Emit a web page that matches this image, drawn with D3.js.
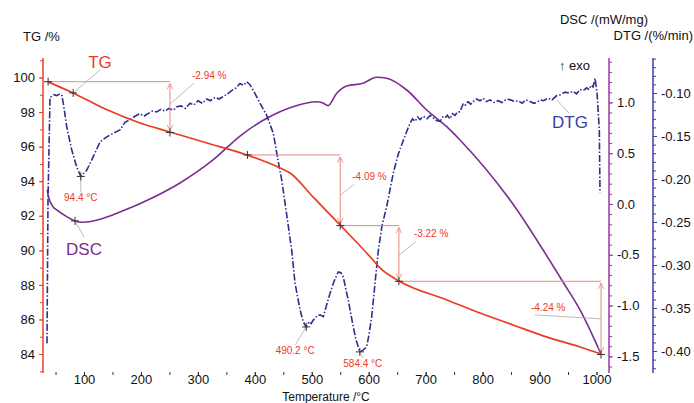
<!DOCTYPE html>
<html>
<head>
<meta charset="utf-8">
<script src="https://cdn.jsdelivr.net/npm/d3@7"></script>
<style>
  body { margin: 0; background: #fff; }
  svg text { font-family: "Liberation Sans", Arial, Helvetica, sans-serif; }
</style>
</head>
<body>
<script>
// TG curve (temperature °C, mass %)
const tgTemp = [36.8, 80.7, 140.4, 198.4, 251.0, 316.0, 386.3, 444.2, 461.8, 502.2, 549.6, 607.6, 619.9, 653.2, 737.5, 795.5, 853.4, 913.1, 971.1, 1008];
const tgVal  = [99.75, 99.11, 98.13, 97.37, 96.85, 96.21, 95.52, 94.77, 94.48, 93.09, 91.47, 89.44, 88.98, 88.23, 87.13, 86.37, 85.68, 84.98, 84.41, 84.00];

// DSC curve (mW/mg)
const dscTemp = [35.5, 37.3, 45.6, 52.1, 69.6, 84.2, 98.0, 112.0, 130.0, 163.2, 215.9, 268.6, 326.6, 374.0, 420.9, 467.1, 508.7, 519.7, 528.5, 543.8, 561.4, 590.0, 614.0, 631.6, 666.7, 701.9, 737.0, 760.3, 848.2, 941.2, 971.1, 1007.5];
const dscVal  = [0.14, 0.079, -0.027, -0.059, -0.125, -0.167, -0.180, -0.172, -0.148, -0.080, 0.049, 0.207, 0.433, 0.669, 0.844, 0.958, 1.007, 0.994, 0.968, 1.090, 1.161, 1.188, 1.247, 1.237, 1.122, 0.925, 0.761, 0.630, 0.039, -0.768, -1.043, -1.471];

// DTG curve (%/min)
const dtgTemp = [35.0, 36.8, 40.3, 43.3, 47.3, 52.1, 56.1, 60.8, 63.7, 69.6, 78.4, 87.2, 94.4, 104.7, 116.3, 128.1, 139.9, 150.9, 163.2, 172.0, 180.8, 189.6, 198.4, 205.0, 212.4, 220.0, 227.7, 235.0, 242.3, 249.0, 256.8, 263.0, 270.4, 278.0, 286.2, 293.0, 300.2, 308.0, 315.5, 322.0, 330.1, 337.0, 344.7, 352.0, 359.9, 367.0, 374.0, 380.0, 385.7, 391.0, 397.3, 409.1, 420.9, 432.5, 441.2, 447.2, 454.8, 464.8, 470.6, 479.4, 485.0, 490.2, 495.2, 499.0, 502.7, 506.0, 509.2, 514.5, 520.3, 525.0, 532.0, 539.1, 546.6, 551.3, 555.4, 560.1, 564.2, 568.9, 573.0, 577.7, 584.4, 590.0, 596.5, 600.5, 605.3, 611.1, 616.9, 623.4, 631.6, 643.2, 651.5, 660.8, 666.0, 672.6, 677.0, 681.3, 686.0, 690.1, 696.0, 702.4, 708.0, 713.5, 719.0, 725.2, 730.0, 734.0, 738.0, 742.8, 747.0, 751.6, 756.0, 760.3, 766.2, 770.0, 774.4, 779.0, 783.7, 789.0, 795.5, 801.0, 807.0, 813.0, 820.0, 827.1, 834.0, 842.4, 849.0, 857.0, 863.0, 869.3, 876.0, 883.3, 890.0, 895.0, 900.9, 907.0, 915.0, 922.0, 930.2, 937.0, 944.8, 952.0, 959.3, 965.0, 971.1, 977.0, 982.9, 987.0, 990.5, 994.0, 997.5, 1001.0, 1005.0, 1006.2, 1007.1, 1008.0];
const dtgVal  = [-0.391, -0.224, -0.105, -0.104, -0.102, -0.103, -0.1015, -0.102, -0.112, -0.139, -0.166, -0.186, -0.197, -0.190, -0.174, -0.157, -0.151, -0.147, -0.143, -0.134, -0.131, -0.127, -0.124, -0.127, -0.124, -0.121, -0.122, -0.119, -0.121, -0.118, -0.120, -0.116, -0.115, -0.118, -0.112, -0.114, -0.109, -0.112, -0.107, -0.109, -0.105, -0.107, -0.104, -0.101, -0.097, -0.094, -0.089, -0.091, -0.087, -0.090, -0.097, -0.112, -0.126, -0.147, -0.180, -0.201, -0.236, -0.283, -0.321, -0.352, -0.366, -0.372, -0.366, -0.368, -0.364, -0.362, -0.359, -0.358, -0.360, -0.349, -0.333, -0.319, -0.308, -0.309, -0.314, -0.329, -0.341, -0.358, -0.372, -0.387, -0.401, -0.399, -0.395, -0.381, -0.360, -0.321, -0.283, -0.254, -0.232, -0.193, -0.172, -0.155, -0.146, -0.135, -0.130, -0.133, -0.128, -0.131, -0.127, -0.130, -0.126, -0.129, -0.132, -0.133, -0.128, -0.129, -0.126, -0.130, -0.124, -0.126, -0.122, -0.122, -0.112, -0.114, -0.110, -0.113, -0.110, -0.107, -0.109, -0.106, -0.110, -0.108, -0.111, -0.109, -0.111, -0.107, -0.108, -0.110, -0.109, -0.112, -0.108, -0.110, -0.112, -0.111, -0.108, -0.109, -0.106, -0.108, -0.103, -0.102, -0.099, -0.100, -0.098, -0.101, -0.096, -0.097, -0.094, -0.096, -0.091, -0.093, -0.083, -0.100, -0.143, -0.216];

// mass-loss steps
const stepTemp = [37, 251, 387, 550, 653, 1008];
const stepTG   = [99.76, 96.82, 95.52, 91.43, 88.21, 83.97];
const stepFrom = [0, 2, 3, 4];
const stepTo   = [1, 3, 4, 5];
const stepLoss = ["-2.94 %", "-4.09 %", "-3.22 %", "-4.24 %"];

// DTG peaks
const peakTemp = [94.4, 490.2, 584.4];
const peakDTG  = [-0.197, -0.372, -0.401];
const peakText = ["94.4 °C", "490.2 °C", "584.4 °C"];

// tick values
const xTicks   = [100, 200, 300, 400, 500, 600, 700, 800, 900, 1000];
const tgTicks  = [84, 86, 88, 90, 92, 94, 96, 98, 100];
const dscTicks = [-1.5, -1.0, -0.5, 0.0, 0.5, 1.0];
const dtgTicks = [-0.40, -0.35, -0.30, -0.25, -0.20, -0.15, -0.10];

let width = 694;
let height = 403;
let svg = d3.select("body").append("svg")
            .attr("width", width)
            .attr("height", height);

const red = "#ec3b23", purple = "#7b2c8f", blue = "#2c2f8e";
const redAxis = "#e8402a", purpleAxis = "#9a3aa6", blueAxis = "#3f3fae";
const annot = "#e08a7d";

let plotTop = 58, plotBottom = 372, plotLeft = 43, plotRight = 609;

let x = d3.scaleLinear().domain([28, 1022]).range([plotLeft, plotRight]);
let yTG = d3.scaleLinear().domain([82.96, 101.13]).range([plotBottom, plotTop]);
let yDSC = d3.scaleLinear().domain([-1.654, 1.437]).range([plotBottom, plotTop]);
let yDTG = d3.scaleLinear().domain([-0.4244, -0.0593]).range([plotBottom, plotTop]);

// ---- axes ----
function styleAxis(g, color) {
  g.select(".domain").remove();
  g.selectAll("line").attr("stroke", color).attr("stroke-width", 1);
  g.selectAll("text").attr("fill", "#111").style("font-size", "13px");
}
const minus = d => d.replace("−", "-");

// x axis (ticks only)
let xMinor = svg.append("g").attr("transform", `translate(0,${plotBottom})`)
  .call(d3.axisBottom(x).tickValues(d3.range(50, 1001, 50)).tickSize(3).tickFormat(""));
styleAxis(xMinor, "#333");
let xAxis = svg.append("g").attr("transform", `translate(0,${plotBottom})`)
  .call(d3.axisBottom(x).tickValues(xTicks).tickSize(3).tickPadding(0).tickFormat(d3.format("d")));
styleAxis(xAxis, "#333");

svg.append("text").attr("x", (plotLeft + plotRight) / 2).attr("y", 400.5)
   .attr("text-anchor", "middle").style("font-size", "12px").attr("fill", "#111")
   .text("Temperature /°C");

// TG axis (left)
svg.append("line").attr("x1", plotLeft).attr("x2", plotLeft).attr("y1", plotTop).attr("y2", plotBottom + 1)
   .attr("stroke", redAxis).attr("stroke-width", 1.5);
let tgMinor = svg.append("g").attr("transform", `translate(${plotLeft},0)`)
  .call(d3.axisLeft(yTG).tickValues(d3.range(83, 102, 1)).tickSize(3).tickFormat(""));
styleAxis(tgMinor, redAxis);
let tgAxis = svg.append("g").attr("transform", `translate(${plotLeft},0)`)
  .call(d3.axisLeft(yTG).tickValues(tgTicks).tickSize(4).tickPadding(4));
styleAxis(tgAxis, redAxis);

// DSC axis (right, purple)
svg.append("line").attr("x1", plotRight).attr("x2", plotRight).attr("y1", plotTop).attr("y2", plotBottom + 1)
   .attr("stroke", purpleAxis).attr("stroke-width", 1.5);
let dscMinor = svg.append("g").attr("transform", `translate(${plotRight},0)`)
  .call(d3.axisRight(yDSC).tickValues(d3.range(-16, 15, 1).map(v => v / 10)).tickSize(3).tickFormat(""));
styleAxis(dscMinor, purpleAxis);
let dscAxis = svg.append("g").attr("transform", `translate(${plotRight},0)`)
  .call(d3.axisRight(yDSC).tickValues(dscTicks).tickSize(4).tickPadding(4).tickFormat(d => minus(d3.format(".1f")(d))));
styleAxis(dscAxis, purpleAxis);

// DTG axis (far right, blue)
let dtgX = 653;
svg.append("line").attr("x1", dtgX).attr("x2", dtgX).attr("y1", plotTop).attr("y2", plotBottom + 1)
   .attr("stroke", blueAxis).attr("stroke-width", 1.5);
let dtgMinor = svg.append("g").attr("transform", `translate(${dtgX},0)`)
  .call(d3.axisRight(yDTG).tickValues(d3.range(-42, -5, 1).map(v => v / 100)).tickSize(3).tickFormat(""));
styleAxis(dtgMinor, blueAxis);
let dtgAxis = svg.append("g").attr("transform", `translate(${dtgX},0)`)
  .call(d3.axisRight(yDTG).tickValues(dtgTicks).tickSize(4).tickPadding(4).tickFormat(d => minus(d3.format(".2f")(d))));
styleAxis(dtgAxis, blueAxis);

// axis titles
svg.append("text").attr("x", 23).attr("y", 41).style("font-size", "13px").attr("fill", "#111").text("TG /%");
svg.append("text").attr("x", 648).attr("y", 24).attr("text-anchor", "end").style("font-size", "13px").attr("fill", "#111").text("DSC /(mW/mg)");
svg.append("text").attr("x", 693).attr("y", 40).attr("text-anchor", "end").style("font-size", "13px").attr("fill", "#111").text("DTG /(%/min)");
svg.append("text").attr("x", 559).attr("y", 70).style("font-size", "13px").attr("fill", "#111").text("↑ exo");

// ---- curves ----
let tgData = tgTemp.map((t, i) => [t, tgVal[i]]);
let dscData = dscTemp.map((t, i) => [t, dscVal[i]]);
let dtgData = dtgTemp.map((t, i) => [t, dtgVal[i]]);

svg.append("path").datum(dscData)
   .attr("fill", "none").attr("stroke", purple).attr("stroke-width", 1.6)
   .attr("d", d3.line().x(d => x(d[0])).y(d => yDSC(d[1])).curve(d3.curveMonotoneX));

svg.append("path").datum(dtgData)
   .attr("fill", "none").attr("stroke", blue).attr("stroke-width", 1.6)
   .attr("stroke-dasharray", "7,2,1.5,2")
   .attr("d", d3.line().x(d => x(d[0])).y(d => yDTG(d[1])));

// ---- step annotations ----
svg.append("defs").append("marker")
   .attr("id", "head").attr("viewBox", "0 0 10 10").attr("refX", 9).attr("refY", 5)
   .attr("markerWidth", 7).attr("markerHeight", 7).attr("orient", "auto-start-reverse")
   .append("path").attr("d", "M1,1 L9,5 L1,9").attr("fill", "none").attr("stroke", annot).attr("stroke-width", 1.2);

// label offsets from arrow midpoint (layout)
const lossLabelPos = [[22, -28], [12, -10], [15, -16], [-70, -7]];
const lossLeaderEnd = [[0, -3], [0, 5], [0, 2], [0, 1]];

stepFrom.forEach((a, i) => {
  let b = stepTo[i];
  let x0 = x(stepTemp[a]), x1 = x(stepTemp[b]);
  let y0 = yTG(stepTG[a]), y1 = yTG(stepTG[b]);
  svg.append("line").attr("x1", x0).attr("x2", x1).attr("y1", y0).attr("y2", y0)
     .attr("stroke", annot).attr("stroke-width", 1);
  svg.append("line").attr("x1", x1).attr("x2", x1).attr("y1", y0 + 2).attr("y2", y1 - 2)
     .attr("stroke", annot).attr("stroke-width", 1)
     .attr("marker-start", "url(#head)").attr("marker-end", "url(#head)");
  let my = (y0 + y1) / 2;
  let lx = x1 + lossLabelPos[i][0], ly = my + lossLabelPos[i][1];
  svg.append("line").attr("x1", x1).attr("y1", my + lossLeaderEnd[i][1])
     .attr("x2", i === 3 ? lx + 4 : lx + 2).attr("y2", ly + 4)
     .attr("stroke", "#b9a6a2").attr("stroke-width", 0.8);
  svg.append("text").attr("x", lx).attr("y", ly).style("font-size", "10px").attr("fill", red)
     .text(stepLoss[i]);
});

// TG curve on top of annotation lines
svg.append("path").datum(tgData)
   .attr("fill", "none").attr("stroke", red).attr("stroke-width", 1.7)
   .attr("d", d3.line().x(d => x(d[0])).y(d => yTG(d[1])).curve(d3.curveMonotoneX));

// ---- crosses ----
function cross(cx, cy) {
  svg.append("path").attr("d", `M${cx - 4},${cy}H${cx + 4}M${cx},${cy - 4}V${cy + 4}`)
     .attr("stroke", "#333").attr("stroke-width", 1);
}
stepTemp.forEach((t, i) => cross(x(t), yTG(stepTG[i])));

// DTG peak labels
const peakLabelPos = [[0, 25], [-11, 27], [3, 15]];
peakTemp.forEach((t, i) => {
  let px = x(t), py = yDTG(peakDTG[i]);
  let lx = px + peakLabelPos[i][0], ly = py + peakLabelPos[i][1];
  svg.append("line").attr("x1", px).attr("y1", py).attr("x2", lx).attr("y2", ly - 9)
     .attr("stroke", "#b9a6a2").attr("stroke-width", 0.8);
  cross(px, py);
  svg.append("text").attr("x", lx).attr("y", ly).attr("text-anchor", "middle")
     .style("font-size", "10px").attr("fill", red).text(peakText[i]);
});

// ---- curve labels ----
function curveLabel(t, v, scale, lx, ly) {
  let px = x(t), py = scale(v);
  svg.append("line").attr("x1", px).attr("y1", py).attr("x2", lx).attr("y2", ly)
     .attr("stroke", "#aaa").attr("stroke-width", 0.8);
  cross(px, py);
}
curveLabel(81, 99.11, yTG, 100, 70);
svg.append("text").attr("x", 100).attr("y", 68).attr("text-anchor", "middle")
   .style("font-size", "17px").attr("fill", red).text("TG");

curveLabel(84.2, -0.167, yDSC, 84, 237);
svg.append("text").attr("x", 84).attr("y", 255).attr("text-anchor", "middle")
   .style("font-size", "17px").attr("fill", purple).text("DSC");

svg.append("line").attr("x1", x(930)).attr("y1", yDTG(-0.108)).attr("x2", 569).attr("y2", 113)
   .attr("stroke", "#aaa").attr("stroke-width", 0.8);
svg.append("text").attr("x", 570).attr("y", 128).attr("text-anchor", "middle")
   .style("font-size", "17px").attr("fill", "#3a3fa6").text("DTG");
</script>
</body>
</html>
